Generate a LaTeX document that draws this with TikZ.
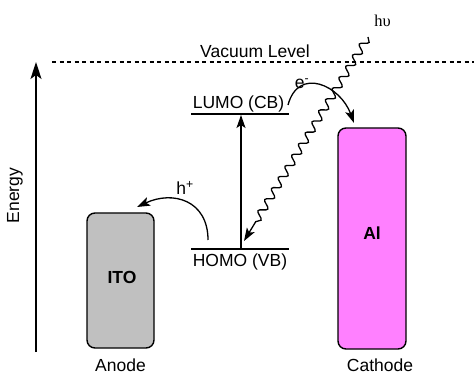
\documentclass[tikz,border=0pt]{standalone}
\usepackage{fontspec}
\setmainfont{Liberation Sans}
\newfontfamily\serifgreek{Liberation Serif}
\usetikzlibrary{arrows.meta,decorations.pathmorphing}
\definecolor{itogray}{HTML}{C0C0C0}
\definecolor{alpink}{HTML}{FF80FF}
\begin{document}
\begin{tikzpicture}[x=1pt,y=-1pt,
  lbl/.style={font=\fontsize{17.5}{20}\selectfont, inner sep=0pt},
  boldlbl/.style={font=\fontsize{17.5}{20}\selectfont\bfseries, inner sep=0pt},
  electrode/.style={draw, line width=1.4pt, rounded corners=8pt, inner sep=0pt},
  level/.style={line width=2pt},
  arr/.style={line width=1.3pt, -{Stealth[length=13pt,width=9pt,inset=3pt]}},
  bigarr/.style={line width=1.3pt, -{Stealth[length=17pt,width=11pt,inset=4pt]}},
  wave/.style={line width=1.3pt, decorate,
    decoration={snake, segment length=13pt, amplitude=3.8pt, post length=20pt},
    -{Stealth[length=13pt,width=9pt,inset=3pt]}}]
\useasboundingbox (0,0) rectangle (474,374);

% electrodes
\node[electrode, fill=itogray, minimum width=67pt, minimum height=135pt] (ito) at (120.5,280.5) {};
\node[boldlbl] (itotext) at (122,277) {ITO};
\node[electrode, fill=alpink, minimum width=68pt, minimum height=221pt] (al) at (372,238.5) {};
\node[boldlbl] (altext) at (372,233) {Al};
\node[lbl] (anode) at (120.5,365) {Anode};
\node[lbl] (cathode) at (380,365) {Cathode};

% energy axis
\coordinate (ebot) at (36,352);
\coordinate (etop) at (36,62);
\draw[bigarr] (ebot) -- (etop);
\node[lbl, rotate=90] (energy) at (15,195.5) {Energy};

% vacuum level
\coordinate (vl) at (52,62);
\coordinate (vr) at (474,62);
\draw[line width=1.2pt, dash pattern=on 4pt off 3.5pt] (vl) -- (vr);
\node[lbl] (vac) at (255,51) {Vacuum Level};

% LUMO / HOMO
\coordinate (lumoL) at (191,114);
\coordinate (lumoR) at (289,114);
\coordinate (homoL) at (191,249);
\coordinate (homoR) at (289,249);
\draw[level] (lumoL) -- (lumoR);
\draw[level] (homoL) -- (homoR);
\node[lbl] (lumo) at (238.5,104) {LUMO (CB)};
\node[lbl] (homo) at (240,262) {HOMO (VB)};

% excitation arrow
\coordinate (hv) at (241,249);
\coordinate (lv) at (241,115);
\draw[arr] (hv) -- (lv);

% electron transfer
\coordinate (es) at (288,105);
\coordinate (ee) at (354,123);
\draw[arr] (es) to[out=75,in=110,looseness=1.5] (ee);
\node[lbl] (elabel) at (302,84) {e\textsuperscript{-}};

% hole transfer
\coordinate (hs) at (208,240);
\coordinate (he) at (137,207);
\draw[arr] (hs) to[out=90,in=25,looseness=1.3] (he);
\node[lbl] (hlabel) at (185,188) {h\textsuperscript{+}};

% photon
\coordinate (ws) at (368,37);
\coordinate (we) at (244,241);
\draw[wave] (ws) -- (we);
\node[inner sep=0pt, font=\fontsize{16.5}{18}\serifgreek] (hnu) at (382.5,20.5) {hυ};
\end{tikzpicture}
\end{document}
